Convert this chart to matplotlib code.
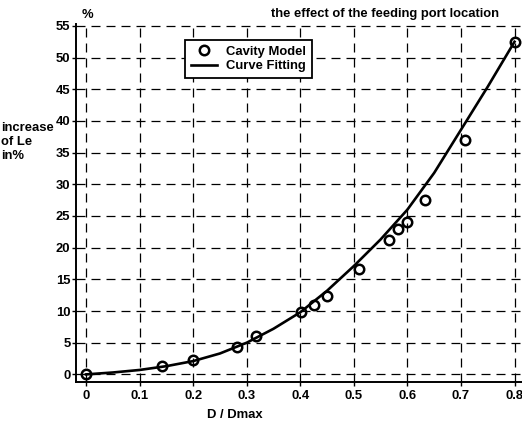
#!/usr/bin/env python3
#
#   Effect of the feeding port location on the increase of Le (%)
#   cavity model points and the fitted curve
#

import matplotlib
matplotlib.use("Agg")
import matplotlib.pyplot as plt

# Cavity model points
modelX = [0.0, 0.142, 0.20, 0.282, 0.317, 0.401, 0.426, 0.449, 0.510,
          0.566, 0.583, 0.600, 0.632, 0.707, 0.800]
modelY = [0.0, 1.4, 2.2, 4.4, 6.0, 9.9, 10.9, 12.4, 16.7,
          21.2, 22.9, 24.0, 27.6, 37.0, 52.5]

# Curve fitting line
fitX = [0.0, 0.05, 0.10, 0.15, 0.20, 0.25, 0.30, 0.35, 0.40, 0.45,
        0.50, 0.55, 0.60, 0.65, 0.70, 0.75, 0.80]
fitY = [0.0, 0.3, 0.7, 1.3, 2.1, 3.3, 5.0, 7.2, 9.8, 13.2,
        17.1, 21.3, 26.0, 31.8, 38.6, 45.4, 52.5]

xTicks = [0, 0.1, 0.2, 0.3, 0.4, 0.5, 0.6, 0.7, 0.8]
xTickLabels = ["0", "0.1", "0.2", "0.3", "0.4", "0.5", "0.6", "0.7", "0.8"]
yTicks = [0, 5, 10, 15, 20, 25, 30, 35, 40, 45, 50, 55]

fs = 9.4  # one size for every text
plt.rcParams['font.family'] = ['Liberation Sans', 'DejaVu Sans']
plt.rcParams['font.size'] = fs

W, H = 522, 423
fig = plt.figure(figsize=(W / 100, H / 100), dpi=100)
ax = fig.add_axes([76 / W, 1 - 382 / H, 1 - 76 / W, (382 - 24) / H])

# data
ax.plot(fitX, fitY, color='black', linewidth=1.9, label='Curve Fitting', zorder=3)
ax.plot(modelX, modelY, linestyle='none', marker='o', markersize=6.8,
        markerfacecolor='none', markeredgecolor='black', markeredgewidth=1.8,
        label='Cavity Model', zorder=4)

ax.set_xlim(-0.0187, 0.814)
ax.set_ylim(-1.2, 55.3)
ax.set_xticks(xTicks)
ax.set_xticklabels(xTickLabels)
ax.set_yticks(yTicks)

# dashed grid, like the old MATLAB style
ax.grid(True, color='black', linestyle=(0, (7.2, 4.8)), linewidth=0.9)
ax.set_axisbelow(True)
ax.spines['top'].set_visible(False)
ax.spines['right'].set_visible(False)
ax.spines['left'].set_linewidth(1.4)
ax.spines['bottom'].set_linewidth(1.4)
ax.tick_params(axis='x', direction='out', length=3, width=1, pad=3, labelsize=fs)
ax.tick_params(axis='y', direction='out', length=3, width=1, pad=1, labelsize=fs)
for lab in ax.get_xticklabels() + ax.get_yticklabels():
    lab.set_fontweight('bold')

# legend with marker first then line
handles, labels = ax.get_legend_handles_labels()
leg = ax.legend(handles[::-1], labels[::-1], loc='upper left',
                bbox_to_anchor=((185 - 76) / (W - 76), 1 - (40 - 24) / (382 - 24)),
                frameon=True, fancybox=False, edgecolor='black',
                handlelength=2.0, handletextpad=0.7, borderpad=0.45,
                borderaxespad=0, labelspacing=0.15,
                prop={'weight': 'bold', 'size': fs})
leg.get_frame().set_linewidth(1.3)
leg.get_frame().set_alpha(1)

# texts around the axes
fig.text(385 / W, 1 - 14 / H, "the effect of the feeding port location",
         ha='center', va='center', fontsize=fs, fontweight='bold')
fig.text(82 / W, 1 - 15 / H, "%", ha='left', va='center', fontsize=fs,
         fontweight='bold')
fig.text(1 / W, 1 - 142 / H, "increase\nof Le\nin%", ha='left', va='center',
         fontsize=fs, fontweight='bold', linespacing=1.25)
fig.text(235 / W, 1 - 415 / H, "D / Dmax", ha='center', va='center',
         fontsize=fs, fontweight='bold')

fig.savefig("out.png", dpi=100)
